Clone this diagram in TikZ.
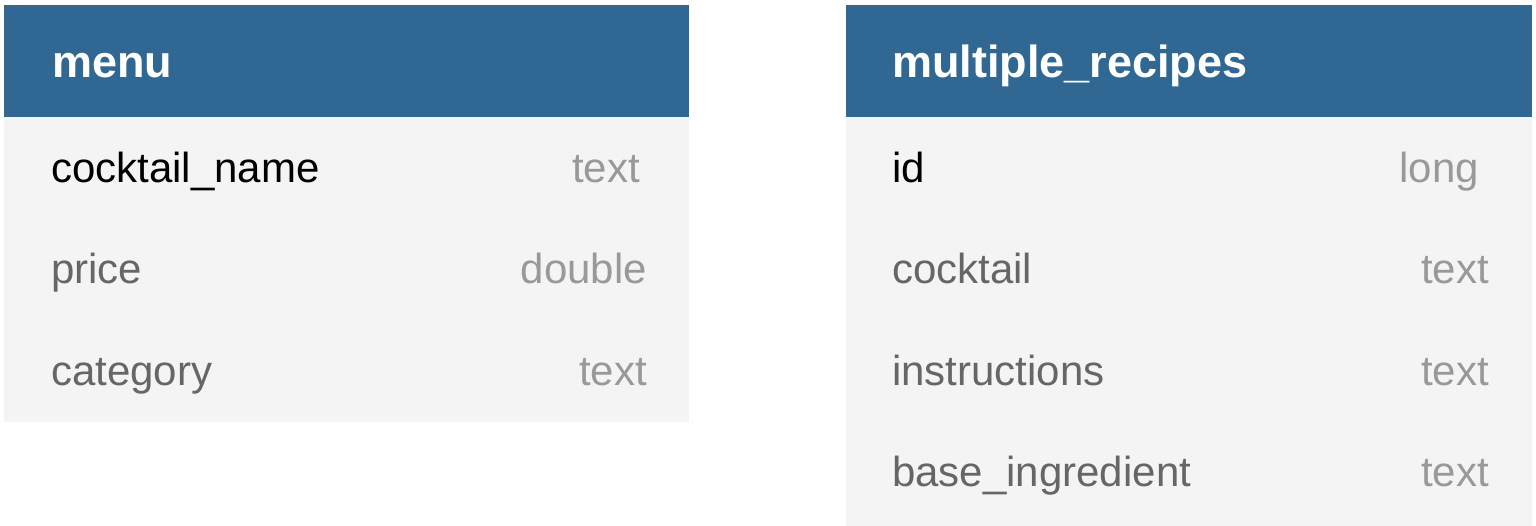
\documentclass[tikz,border=0pt]{standalone}
\usepackage{fontspec}
\setmainfont{Liberation Sans}
\definecolor{hdrblue}{HTML}{316893}
\definecolor{bodygray}{HTML}{F4F4F4}
\definecolor{namegray}{HTML}{666666}
\definecolor{typegray}{HTML}{999999}
\tikzset{
  hdrbox/.style={fill=hdrblue, draw=none, inner sep=0pt, anchor=north west},
  bodybox/.style={fill=bodygray, draw=none, inner sep=0pt, anchor=north west},
  title/.style={text=white, font=\fontsize{45}{54}\selectfont\bfseries, inner sep=0pt, anchor=base west},
  keyname/.style={text=black, font=\fontsize{42}{50}\selectfont, inner sep=0pt, anchor=base west},
  colname/.style={text=namegray, font=\fontsize{42}{50}\selectfont, inner sep=0pt, anchor=base west},
  coltype/.style={text=typegray, font=\fontsize{42}{50}\selectfont, inner sep=0pt, anchor=base east},
}
\begin{document}
\begin{tikzpicture}[x=1pt,y=-1pt]
\useasboundingbox (0,0) rectangle (1536,525);
% menu table
\node[bodybox, minimum width=685pt, minimum height=305pt] (menuB) at (4,117) {};
\node[hdrbox, minimum width=685pt, minimum height=112pt] (menuH) at (4,5) {};
\node[title] (menuT) at (52,77) {menu};
\node[keyname] (m1n) at (51,182) {cocktail\_name};
\node[coltype] (m1t) at (640,182) {text};
\node[colname] (m2n) at (51,283) {price};
\node[coltype] (m2t) at (647,283) {double};
\node[colname] (m3n) at (51,385) {category};
\node[coltype] (m3t) at (647,385) {text};
% multiple_recipes table
\node[bodybox, minimum width=686pt, minimum height=410pt] (mrB) at (846,117) {};
\node[hdrbox, minimum width=686pt, minimum height=112pt] (mrH) at (846,5) {};
\node[title] (mrT) at (892,77) {multiple\_recipes};
\node[keyname] (r1n) at (892,182) {id};
\node[coltype] (r1t) at (1479,182) {long};
\node[colname] (r2n) at (892,283) {cocktail};
\node[coltype] (r2t) at (1489,283) {text};
\node[colname] (r3n) at (892,385) {instructions};
\node[coltype] (r3t) at (1489,385) {text};
\node[colname] (r4n) at (892,486) {base\_ingredient};
\node[coltype] (r4t) at (1489,486) {text};
\end{tikzpicture}
\end{document}
